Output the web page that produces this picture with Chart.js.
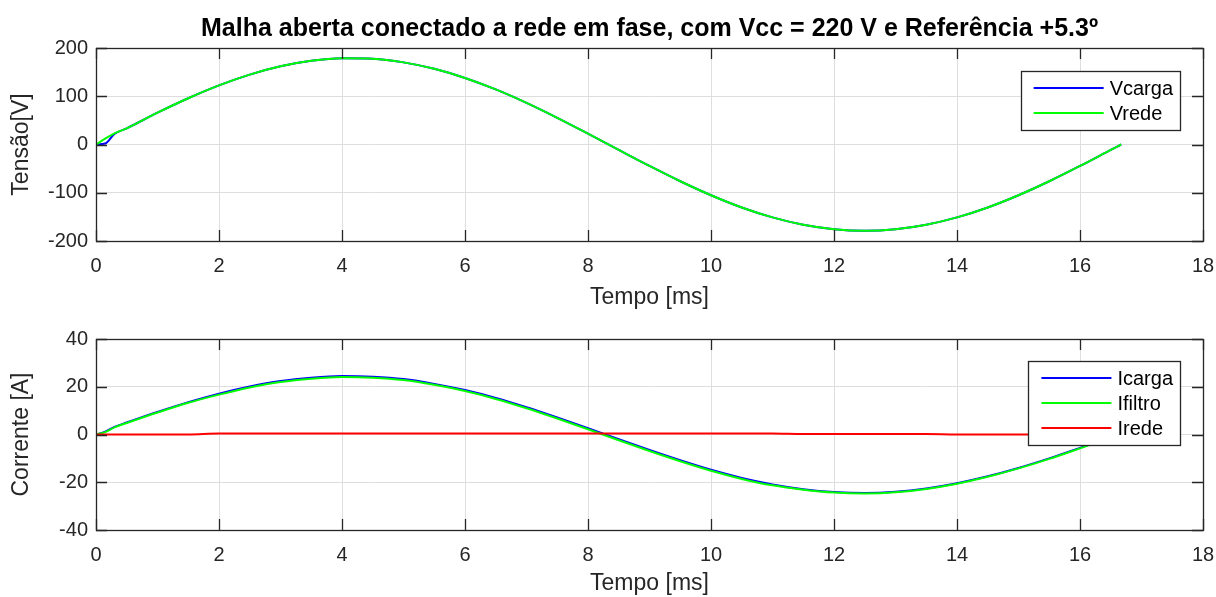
<!DOCTYPE html>
<html>
<head>
<meta charset="utf-8">
<script src="https://cdn.jsdelivr.net/npm/chart.js@4.4.1/dist/chart.umd.min.js"></script>
<style>
  html, body { margin: 0; padding: 0; background: #ffffff; }
  body { width: 1216px; height: 597px; position: relative; overflow: hidden; }
  .box { position: absolute; left: 0; width: 1216px; }
  #b1 { top: 0; height: 320px; }
  #b2 { top: 320px; height: 277px; }
</style>
</head>
<body>
<div class="box" id="b1"><canvas id="c1"></canvas></div>
<div class="box" id="b2"><canvas id="c2"></canvas></div>
<script>
// ---- data ----
const timeMs = [0, 0.15, 0.3, 0.5, 1, 1.5, 2, 2.5, 3, 3.5, 4, 4.5, 5, 5.5, 6, 6.5, 7, 7.5, 8, 8.5, 9, 9.5, 10, 10.5, 11, 11.5, 12, 12.5, 13, 13.5, 14, 14.5, 15, 15.5, 16, 16.5, 16.67];
const vcarga = [0, 2, 22, 33.5, 65.9, 95.9, 122.5, 144.8, 162.0, 173.4, 178.6, 177.6, 170.2, 156.9, 137.9, 114.1, 86.2, 55.3, 22.4, -11.2, -44.5, -76.2, -105.2, -130.5, -151.1, -166.4, -175.8, -179, -175.8, -166.4, -151.1, -130.5, -105.2, -76.2, -44.5, -11.2, 0];
const vrede = [0, 12, 23, 33.5, 65.9, 95.9, 122.5, 144.8, 162.0, 173.4, 178.6, 177.6, 170.2, 156.9, 137.9, 114.1, 86.2, 55.3, 22.4, -11.2, -44.5, -76.2, -105.2, -130.5, -151.1, -166.4, -175.8, -179, -175.8, -166.4, -151.1, -130.5, -105.2, -76.2, -44.5, -11.2, 0];
const icarga = [0, 1.2, 3.2, 5.0, 9.4, 13.5, 17.1, 20.1, 22.4, 23.8, 24.5, 24.2, 23.2, 21.2, 18.6, 15.3, 11.4, 7.1, 2.6, -2.0, -6.5, -10.8, -14.8, -18.2, -20.9, -22.9, -24.1, -24.5, -24.0, -22.6, -20.4, -17.5, -14.0, -10.0, -5.6, -1.1, 0.4];
const ifiltro = [0, 1.0, 3.0, 4.8, 9.2, 13.3, 16.7, 19.7, 22.0, 23.4, 24.1, 23.8, 22.8, 20.8, 18.2, 14.9, 11.0, 6.7, 2.2, -2.4, -6.9, -11.2, -15.2, -18.6, -21.3, -23.1, -24.3, -24.7, -24.2, -22.8, -20.6, -17.7, -14.2, -10.2, -5.8, -1.3, 0.2];
const irede = [0, 0, 0, 0, 0, 0, 0.4, 0.4, 0.4, 0.4, 0.4, 0.4, 0.4, 0.4, 0.4, 0.4, 0.4, 0.4, 0.4, 0.4, 0.4, 0.4, 0.4, 0.4, 0.4, 0.2, 0.2, 0.2, 0.2, 0.2, 0.05, 0.05, 0.05, 0.05, 0.05, 0.05, 0];

const xTicks = [0, 2, 4, 6, 8, 10, 12, 14, 16, 18];
const vTicks = [-200, -100, 0, 100, 200];
const iTicks = [-40, -20, 0, 20, 40];

const titleText = 'Malha aberta conectado a rede em fase, com Vcc = 220 V e Referência +5.3º';
const xLabel = 'Tempo [ms]';
const vLabel = 'Tensão[V]';
const iLabel = 'Corrente [A]';
const vNames = ['Vcarga', 'Vrede'];
const iNames = ['Icarga', 'Ifiltro', 'Irede'];

// ---- styling ----
const FONT = "'Liberation Sans', Arial, Helvetica, sans-serif";
const AXIS_COLOR = '#262626';
const GRID_COLOR = '#dedede';
const TICK_SIZE = 20;
const LABEL_SIZE = 23;
const LEGEND_SIZE = 20;
const TITLE_SIZE = 25;

function pts(ys) { return timeMs.map((t, i) => ({ x: t, y: ys[i] })); }

function ds(label, ys, color, order) {
  return { label, data: pts(ys), borderColor: color, backgroundColor: color, borderWidth: 2,
    pointRadius: 0, cubicInterpolationMode: 'monotone', fill: false, order };
}

const framePlugin = {
  id: 'frame',
  afterDatasetsDraw(chart) {
    const { ctx, chartArea: a, scales } = chart;
    const x = scales.x, y = scales.y;
    ctx.save();
    ctx.strokeStyle = AXIS_COLOR;
    ctx.lineWidth = 1.3;
    ctx.strokeRect(Math.round(a.left) + 0.5, Math.round(a.top) + 0.5, Math.round(a.right - a.left), Math.round(a.bottom - a.top));
    const L = 11;
    ctx.beginPath();
    x.ticks.forEach(t => {
      const px = Math.round(x.getPixelForValue(t.value)) + 0.5;
      ctx.moveTo(px, a.bottom); ctx.lineTo(px, a.bottom - L);
      ctx.moveTo(px, a.top); ctx.lineTo(px, a.top + L);
    });
    y.ticks.forEach(t => {
      const py = Math.round(y.getPixelForValue(t.value)) + 0.5;
      ctx.moveTo(a.left, py); ctx.lineTo(a.left + L, py);
      ctx.moveTo(a.right, py); ctx.lineTo(a.right - L, py);
    });
    ctx.stroke();

    // legend box
    const lg = chart.options.plugins.boxLegend;
    if (lg) {
      ctx.font = LEGEND_SIZE + 'px ' + FONT;
      const names = chart.data.datasets.map(d => d.label);
      const tw = Math.max(...names.map(n => ctx.measureText(n).width));
      const w = 13 + 70 + 6 + tw + 7;
      const h = names.length * 25 + 9;
      const right = a.right - lg.offRight, top = a.top + lg.offTop;
      const left = right - w;
      ctx.fillStyle = '#ffffff';
      ctx.fillRect(left, top, w, h);
      ctx.strokeStyle = AXIS_COLOR;
      ctx.lineWidth = 1.3;
      ctx.strokeRect(Math.round(left) + 0.5, Math.round(top) + 0.5, Math.round(w), Math.round(h));
      chart.data.datasets.forEach((d, i) => {
        const cy = top + 17 + i * 25;
        ctx.strokeStyle = d.borderColor;
        ctx.lineWidth = 2;
        ctx.beginPath();
        ctx.moveTo(left + 13, cy); ctx.lineTo(left + 83, cy);
        ctx.stroke();
        ctx.fillStyle = '#000000';
        ctx.textBaseline = 'middle';
        ctx.textAlign = 'left';
        ctx.fillText(d.label, left + 89, cy + 1);
      });
    }

    // main title
    const tt = chart.options.plugins.mainTitle;
    if (tt) {
      ctx.font = 'bold ' + TITLE_SIZE + 'px ' + FONT;
      ctx.fillStyle = '#000000';
      ctx.textAlign = 'center';
      ctx.textBaseline = 'alphabetic';
      ctx.fillText(tt.text, (a.left + a.right) / 2, tt.baseline);
    }
    ctx.restore();
  }
};

function makeChart(id, datasets, yMin, yMax, yLabel, cfg) {
  return new Chart(document.getElementById(id), {
    type: 'line',
    data: { datasets },
    options: {
      responsive: true,
      maintainAspectRatio: false,
      animation: false,
      events: [],
      layout: { padding: { top: cfg.padTop, right: 13, left: 0, bottom: 0 } },
      plugins: {
        legend: { display: false },
        tooltip: { enabled: false },
        boxLegend: cfg.legend,
        mainTitle: cfg.title
      },
      scales: {
        x: {
          type: 'linear', min: 0, max: 18,
          afterFit: s => { s.height = cfg.xHeight; s.paddingLeft = 0; s.paddingRight = 0; },
          afterBuildTicks: s => { s.ticks = xTicks.map(v => ({ value: v })); },
          ticks: { color: AXIS_COLOR, font: { family: FONT, size: TICK_SIZE }, padding: 13, maxRotation: 0, autoSkip: false },
          grid: { color: GRID_COLOR, lineWidth: 1, drawTicks: false },
          border: { display: false },
          title: { display: true, text: xLabel, color: AXIS_COLOR, font: { family: FONT, size: LABEL_SIZE }, padding: { top: 0, bottom: cfg.xTitleBottom } }
        },
        y: {
          type: 'linear', min: yMin, max: yMax,
          afterFit: s => { s.width = 96; s.paddingTop = 0; s.paddingBottom = 0; },
          afterBuildTicks: s => { s.ticks = cfg.yTicks.map(v => ({ value: v })); },
          ticks: { color: AXIS_COLOR, font: { family: FONT, size: TICK_SIZE }, padding: 8, autoSkip: false },
          grid: { color: GRID_COLOR, lineWidth: 1, drawTicks: false },
          border: { display: false },
          title: { display: true, text: yLabel, color: AXIS_COLOR, font: { family: FONT, size: LABEL_SIZE }, padding: { top: 8, bottom: 0 } }
        }
      }
    },
    plugins: [framePlugin]
  });
}

makeChart('c1', [
  ds(vNames[0], vcarga, '#0000ff', 2),
  ds(vNames[1], vrede, '#00ff00', 1)
], -200, 200, vLabel, {
  padTop: 48, xHeight: 79, xTitleBottom: 9, yTicks: vTicks,
  legend: { offRight: 23, offTop: 23 },
  title: { text: titleText, baseline: 36 }
});

makeChart('c2', [
  ds(iNames[0], icarga, '#0000ff', 3),
  ds(iNames[1], ifiltro, '#00ff00', 2),
  ds(iNames[2], irede, '#ff0000', 1)
], -40, 40, iLabel, {
  padTop: 19, xHeight: 67, xTitleBottom: 0, yTicks: iTicks,
  legend: { offRight: 23, offTop: 22 },
  title: null
});
</script>
</body>
</html>
